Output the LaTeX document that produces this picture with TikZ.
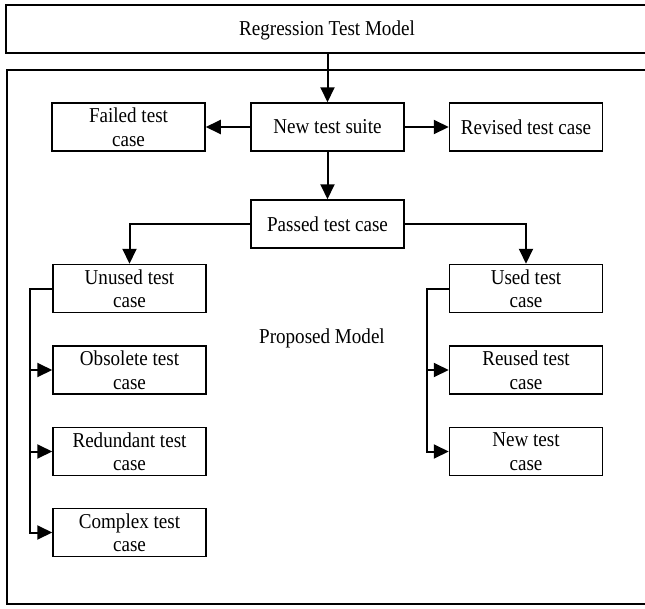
\documentclass[tikz,border=0pt]{standalone}
\usepackage{fontspec}
\setmainfont[FakeStretch=0.9]{Liberation Serif}
\usetikzlibrary{arrows.meta}
\begin{document}
\begin{tikzpicture}[x=1pt,y=-1pt,
  txt/.style={font=\fontsize{21.2}{23.5}\selectfont},
  box/.style={draw,line width=1.5pt,minimum width=153pt,minimum height=48pt,inner sep=0pt,align=center,txt},
  conn/.style={line width=2pt},
  arr/.style={conn,-{Triangle[length=15pt,width=14pt]}},
  frame/.style={draw,line width=1.5pt}]
\clip (0,0) rectangle (645,608);
\useasboundingbox (0,0) rectangle (645,608);
\draw[frame] (6,5) rectangle (660,53);
\node[txt] (title) at (327,30) {Regression Test Model};
\draw[frame] (7,70) rectangle (660,604);
\coordinate (tb) at (327.5,53);
\node[box] (new) at (327.5,127) {New test suite};
\node[box] (failed) at (128.5,127) {Failed test\\case};
\node[box] (revised) at (526,127) {Revised test case};
\node[box] (passed) at (327.5,224) {Passed test case};
\node[box] (unused) at (129.5,288.5) {Unused test\\case};
\node[box] (obsolete) at (129.5,370) {Obsolete test\\case};
\node[box] (redundant) at (129.5,451.5) {Redundant test\\case};
\node[box] (complex) at (129.5,532.5) {Complex test\\case};
\node[box] (used) at (526,288.5) {Used test\\case};
\node[box] (reused) at (526,370) {Reused test\\case};
\node[box] (newtc) at (526,451.5) {New test\\case};
\node[txt] (prop) at (322,338) {Proposed Model};
\draw[arr] (tb) -- (new.north);
\draw[arr] (new.west) -- (failed.east);
\draw[arr] (new.east) -- (revised.west);
\draw[arr] (new.south) -- (passed.north);
\draw[arr] (passed.west) -| (unused.north);
\draw[arr] (passed.east) -| (used.north);
\coordinate (lb) at (30,532.5);
\draw[arr] (unused.west) -| (lb) -- (complex.west);
\draw[arr] (lb |- obsolete.west) -- (obsolete.west);
\draw[arr] (lb |- redundant.west) -- (redundant.west);
\coordinate (rb) at (427,451.5);
\draw[arr] (used.west) -| (rb) -- (newtc.west);
\draw[arr] (rb |- reused.west) -- (reused.west);
\end{tikzpicture}
\end{document}
